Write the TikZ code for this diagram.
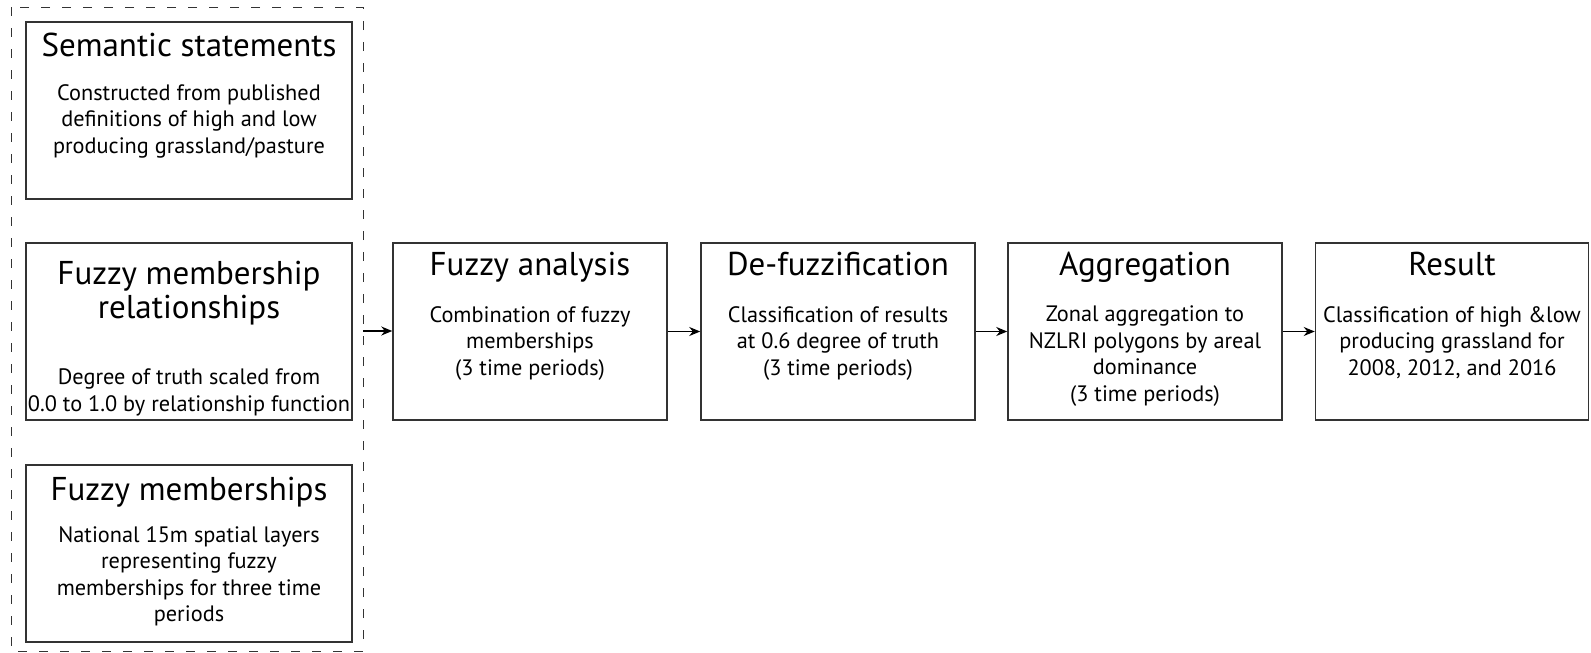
\documentclass[tikz,border=0pt]{standalone}
\usepackage{fontspec}
\setmainfont{PT Sans}
\usetikzlibrary{arrows.meta}
\definecolor{edge}{HTML}{333333}
\tikzset{
  box/.style={draw=edge, line width=1.5pt, rectangle, inner sep=0pt},
  ttl/.style={anchor=north, inner sep=0pt, align=center, font=\fontsize{33}{34}\selectfont},
  bod/.style={anchor=north, inner sep=0pt, align=center, font=\fontsize{22.3}{26.5}\selectfont},
  arr/.style={-{Stealth[length=11pt,width=9pt]}, line width=1.3pt, draw=black},
  grp/.style={draw=black!80, line width=1pt, dash pattern=on 9pt off 12pt},
}
\begin{document}
\begin{tikzpicture}[x=1pt,y=-1pt]
\useasboundingbox (0,0) rectangle (1591,653);
% group
\draw[grp] (11,7) rectangle (363,651);
\coordinate (grpE) at (363,331);
% left boxes
\node[box, minimum width=326pt, minimum height=177pt] (s1) at (189,110.5) {};
\node[ttl] (s1t) at (189,33) {Semantic statements};
\node[bod] (s1b) at (189,84) {Constructed from published\\definitions of high and low\\producing grassland/pasture};
\node[box, minimum width=326pt, minimum height=177pt] (s2) at (189,331.5) {};
\node[ttl] (s2t) at (189,261) {Fuzzy membership\\relationships};
\node[bod] (s2b) at (189,369) {Degree of truth scaled from\\0.0 to 1.0 by relationship function};
\node[box, minimum width=326pt, minimum height=177pt] (s3) at (189,553.5) {};
\node[ttl] (s3t) at (189,477) {Fuzzy memberships};
\node[bod] (s3b) at (189,526) {National 15m spatial layers\\representing fuzzy\\memberships for three time\\periods};
% row boxes
\node[box, minimum width=274pt, minimum height=177pt] (fa) at (530,331.5) {};
\node[ttl] (fat) at (530,252) {Fuzzy analysis};
\node[bod] (fab) at (530,306) {Combination of fuzzy\\memberships\\(3 time periods)};
\node[box, minimum width=274pt, minimum height=177pt] (df) at (838,331.5) {};
\node[ttl] (dft) at (838,252) {De-fuzzification};
\node[bod] (dfb) at (838,306) {Classification of results\\at 0.6 degree of truth\\(3 time periods)};
\node[box, minimum width=274pt, minimum height=177pt] (ag) at (1145,331.5) {};
\node[ttl] (agt) at (1145,252) {Aggregation};
\node[bod] (agb) at (1145,306) {Zonal aggregation to\\NZLRI polygons by areal\\dominance\\(3 time periods)};
\node[box, minimum width=273pt, minimum height=177pt] (re) at (1452,331.5) {};
\node[ttl] (ret) at (1452,252) {Result};
\node[bod] (reb) at (1452,306) {Classification of high \&low\\producing grassland for\\2008, 2012, and 2016};
% arrows
\draw[arr] (grpE) -- (fa.west |- grpE);
\draw[arr] (fa.east) -- (df.west);
\draw[arr] (df.east) -- (ag.west);
\draw[arr] (ag.east) -- (re.west);
\end{tikzpicture}
\end{document}
